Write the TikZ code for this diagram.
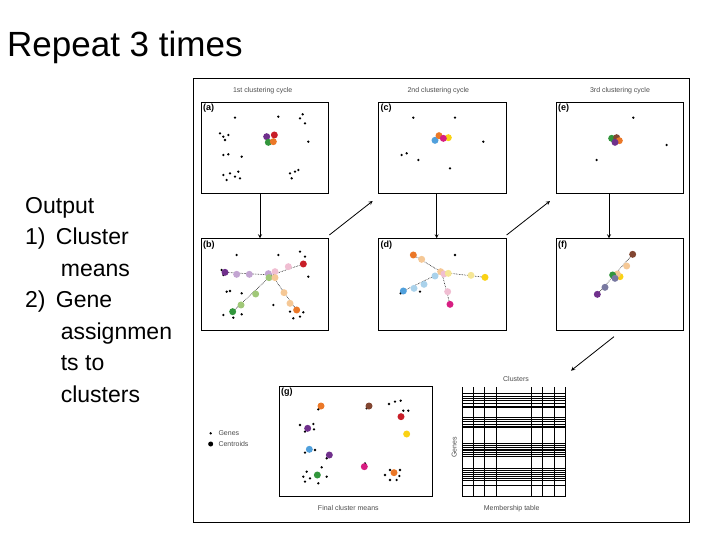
\documentclass[tikz,border=0pt]{standalone}
\usepackage{fontspec}
\setmainfont{Liberation Sans}
\begin{document}
\begin{tikzpicture}[x=1pt,y=-1pt,
  panel/.style={draw=black,line width=0.8pt},
  gene/.style={circle,fill=black,inner sep=0pt,minimum size=2.6pt},
  cen/.style={circle,fill=#1,inner sep=0pt,minimum size=7pt},
  arr/.style={-stealth,line width=0.8pt},
  link/.style={densely dotted,line width=0.6pt},
  lab/.style={font=\fontsize{7}{8}\selectfont,text=black!70},
  plab/.style={font=\bfseries\fontsize{9}{10}\selectfont,anchor=north west,inner sep=2pt}]
\definecolor{cpur}{RGB}{112,48,140}\definecolor{cred}{RGB}{200,30,40}
\definecolor{cgrn}{RGB}{50,150,60}\definecolor{corg}{RGB}{235,120,40}
\definecolor{cmag}{RGB}{215,30,130}\definecolor{cyel}{RGB}{250,210,20}
\definecolor{cblu}{RGB}{80,160,220}\definecolor{cbrn}{RGB}{130,70,50}
\definecolor{lpur}{RGB}{195,165,210}\definecolor{lpink}{RGB}{240,190,210}
\definecolor{lgrn}{RGB}{160,200,120}\definecolor{lorg}{RGB}{245,200,150}
\definecolor{lblu}{RGB}{170,210,235}\definecolor{lyel}{RGB}{245,230,150}
\definecolor{cgry}{RGB}{120,120,160}
\useasboundingbox (0,0) rectangle (720,540);
\node[anchor=west,font=\fontsize{35}{40}\selectfont,inner sep=0pt] (title) at (7,47) {Repeat 3 times};
\node[anchor=north west,font=\fontsize{23}{31.5}\selectfont,align=left,inner sep=0pt] (out) at (25,197)
 {Output\\1)\hspace{0.45em}Cluster\\\hspace{1.55em}means\\2)\hspace{0.45em}Gene\\\hspace{1.55em}assignmen\\\hspace{1.55em}ts to\\\hspace{1.55em}clusters};
\node[draw,line width=1.2pt,minimum width=496pt,minimum height=444pt,anchor=north west,inner sep=0pt] (frame) at (193,78) {};
\begin{scope}[shift={(190,75)},scale=1/3]
 \node[panel,anchor=north west,minimum width=382pt/3,minimum height=273pt/3] (pa) at (33,80) {};
 \node[panel,anchor=north west,minimum width=383pt/3,minimum height=273pt/3] (pc) at (565,80) {};
 \node[panel,anchor=north west,minimum width=380pt/3,minimum height=273pt/3] (pe) at (1098,80) {};
 \node[panel,anchor=north west,minimum width=382pt/3,minimum height=275pt/3] (pb) at (33,490) {};
 \node[panel,anchor=north west,minimum width=383pt/3,minimum height=275pt/3] (pd) at (565,490) {};
 \node[panel,anchor=north west,minimum width=380pt/3,minimum height=275pt/3] (pf) at (1098,490) {};
 \node[plab] at (pa.north west) {(a)}; \node[plab] at (pb.north west) {(b)};
 \node[plab] at (pc.north west) {(c)}; \node[plab] at (pd.north west) {(d)};
 \node[plab] at (pe.north west) {(e)}; \node[plab] at (pf.north west) {(f)};
 \node[lab] (t1) at (218,47) {1st clustering cycle};
 \node[lab] (t2) at (745,47) {2nd clustering cycle};
 \node[lab] (t3) at (1290,47) {3rd clustering cycle};
 \draw[arr] (pa.south -| 210,0) -- (pb.north -| 210,0);
 \draw[arr] (pc.south -| 740,0) -- (pd.north -| 740,0);
 \draw[arr] (pe.south -| 1257,0) -- (pf.north -| 1257,0);
 \coordinate (d1s) at (418,480); \coordinate (d1e) at (548,378);
 \coordinate (d2s) at (950,480); \coordinate (d2e) at (1080,378);
 \draw[arr] (d1s) -- (d1e); \draw[arr] (d2s) -- (d2e);
 % (a)
 \foreach \p in {(135,128),(265,125),(330,130),(345,145),(338,118),(100,185),(115,180),(105,195),(90,175),(355,200),(100,240),(115,238),(155,245),(100,300),(120,295),(135,305),(145,290),(110,315),(150,310),(300,295),(315,290),(325,285),(305,310)} \node[gene] at \p {};
 \node[cen=cpur] at (230,185){}; \node[cen=cred] at (253,180){}; \node[cen=cgrn] at (235,202){}; \node[cen=corg] at (250,200){};
 % (b)
 \coordinate (bc) at (245,600);
 \foreach \q in {(105,592),(340,567),(128,710),(320,705)} \draw[link] (bc) -- \q;
 \foreach \p in {(140,540),(265,540),(330,530),(345,545),(355,605),(95,585),(100,600),(110,650),(120,648),(155,655),(100,720),(155,718),(130,728),(250,690),(300,710),(340,712),(310,730),(330,725)} \node[gene] at \p {};
 \node[cen=lpur] at (140,598){}; \node[cen=lpur] at (178,598){}; \node[cen=lpur] at (235,596){};
 \node[cen=lpink] at (255,590){}; \node[cen=lpink] at (295,575){};
 \node[cen=lgrn] at (237,608){}; \node[cen=lorg] at (255,608){};
 \node[cen=lgrn] at (197,657){}; \node[cen=lgrn] at (153,690){};
 \node[cen=lorg] at (282,653){}; \node[cen=lorg] at (300,685){};
 \node[cen=cpur] at (105,592){}; \node[cen=cred] at (340,567){}; \node[cen=cgrn] at (128,710){}; \node[cen=corg] at (320,705){};
 % (c)
 \foreach \p in {(670,128),(795,128),(880,200),(635,240),(650,235),(685,255),(780,280)} \node[gene] at \p {};
 \node[cen=cblu] at (735,196){}; \node[cen=corg] at (747,182){}; \node[cen=cyel] at (775,188){}; \node[cen=cmag] at (760,190){};
 % (d)
 \coordinate (dc) at (755,592);
 \foreach \q in {(670,540),(640,648),(885,607),(780,688)} \draw[link] (dc) -- \q;
 \foreach \p in {(795,540),(690,650),(632,655)} \node[gene] at \p {};
 \node[cen=lorg] at (695,553){}; \node[cen=lblu] at (672,640){}; \node[cen=lblu] at (702,628){}; \node[cen=lblu] at (735,603){};
 \node[cen=lorg] at (752,590){}; \node[cen=lpink] at (762,597){}; \node[cen=lyel] at (775,595){}; \node[cen=lyel] at (843,601){};
 \node[cen=lpink] at (773,650){};
 \node[cen=corg] at (670,540){}; \node[cen=cblu] at (640,648){}; \node[cen=cyel] at (885,607){}; \node[cen=cmag] at (780,688){};
 % (e)
 \foreach \p in {(1330,128),(1220,255),(1430,210)} \node[gene] at \p {};
 \node[cen=cgrn] at (1265,190){}; \node[cen=cbrn] at (1280,188){}; \node[cen=corg] at (1288,197){}; \node[cen=cpur] at (1275,202){};
 % (f)
 \draw[link] (1328,538) -- (1222,658);
 \node[cen=lorg] at (1310,573){}; \node[cen=cyel] at (1290,605){}; \node[cen=lorg] at (1282,597){}; \node[cen=cgrn] at (1268,600){};
 \node[cen=cgry] at (1275,610){}; \node[cen=cgry] at (1245,637){};
 \node[cen=cbrn] at (1328,538){}; \node[cen=cpur] at (1222,658){};
\end{scope}
\begin{scope}[shift={(190,330)},scale=1/3]
 \coordinate (d3s) at (1272,20); \coordinate (d3e) at (1143,122);
 \draw[arr] (d3s) -- (d3e);
 \node[panel,anchor=north west,minimum width=460pt/3,minimum height=329pt/3] (pg) at (267,168) {};
 \node[plab] at (pg.north west) {(g)};
 \foreach \p in {(385,238),(530,235),(597,222),(615,215),(632,212),(640,242),(655,242),(330,285),(370,282),(345,305),(372,298),(345,368),(375,360),(410,385),(525,400),(340,440),(350,425),(395,412),(410,440),(345,455),(385,460),(360,445),(585,435),(600,420),(630,420),(620,450),(600,450),(628,438)} \node[gene] at \p {};
 \node[cen=corg] at (393,228){}; \node[cen=cbrn] at (537,228){}; \node[cen=cred] at (633,260){}; \node[cen=cyel] at (650,312){};
 \node[cen=cpur] at (353,295){}; \node[cen=cblu] at (358,358){}; \node[cen=cpur] at (418,375){}; \node[cen=cmag] at (523,410){};
 \node[cen=cgrn] at (382,435){}; \node[cen=corg] at (612,428){};
 \node[gene] (lg) at (62,310){}; \node[lab,anchor=west] at (75,310) {Genes};
 \node[cen=black,minimum size=5pt] (lc) at (62,342){}; \node[lab,anchor=west] at (75,342) {Centroids};
 \node[lab] (fcm) at (475,535) {Final cluster means};
 \foreach \x in {817,850,883,918,1025,1058,1093,1127} \draw[line width=0.7pt] (\x,172) -- (\x,499);
 \foreach \y in {190,198,205,212,220,228,233,262,268,275,282,288,293,340,347,352,357,362,368,374,378,415,422,428,433,438,444,452,467,499} \draw[line width=0.7pt] (817,\y) -- (1127,\y);
 \node[lab] (cl) at (978,148) {Clusters};
 \node[lab,rotate=90] (gn) at (793,352) {Genes};
 \node[lab] (mt) at (965,535) {Membership table};
\end{scope}
\end{tikzpicture}
\end{document}
